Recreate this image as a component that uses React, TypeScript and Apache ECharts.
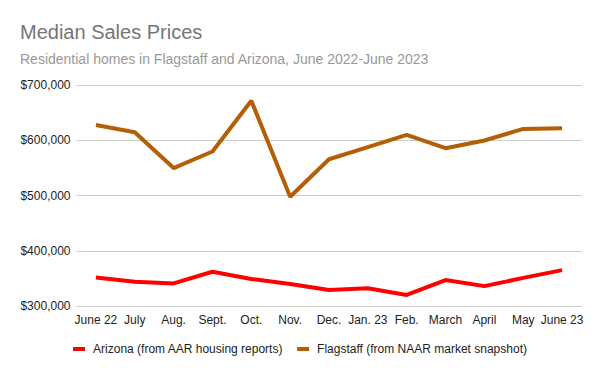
import React, { useEffect, useRef } from "react";
import * as echarts from "echarts";

const months = ["June 22", "July", "Aug.", "Sept.", "Oct.", "Nov.", "Dec.", "Jan. 23", "Feb.", "March", "April", "May", "June 23"];
const arizona = [351500, 344000, 341000, 362000, 349000, 340000, 329000, 332000, 320000, 347000, 336000, 351000, 365000];
const flagstaff = [628000, 615000, 550000, 580000, 672000, 498000, 566000, 588000, 610000, 586000, 600000, 621000, 622000];
const yTicks = { min: 300000, max: 700000, interval: 100000 };

const FONT = "Arial, 'Liberation Sans', sans-serif";

export default function App() {
  const ref = useRef<HTMLDivElement>(null);
  useEffect(() => {
    if (!ref.current) return;
    const chart = echarts.init(ref.current, undefined, { renderer: "svg" });
    chart.setOption({
      animation: false,
      backgroundColor: "#ffffff",
      textStyle: { fontFamily: FONT },
      title: {
        text: "Median Sales Prices",
        subtext: "Residential homes in Flagstaff and Arizona, June 2022-June 2023",
        left: 20,
        top: 22,
        padding: 0,
        itemGap: 10,
        textStyle: { fontFamily: FONT, fontSize: 20, fontWeight: "normal", color: "#757575" },
        subtextStyle: { fontFamily: FONT, fontSize: 14, color: "#999999" },
      },
      legend: {
        top: 338,
        left: "center",
        icon: "rect",
        itemWidth: 12,
        itemHeight: 4,
        itemGap: 14,
        textStyle: { fontFamily: FONT, fontSize: 12, color: "#222222", padding: [0, 0, 0, 3] },
        data: ["Arizona (from AAR housing reports)", "Flagstaff (from NAAR market snapshot)"],
      },
      grid: { left: 76.5, right: 18.5, top: 85.3, bottom: 65, containLabel: false },
      xAxis: {
        type: "category",
        data: months,
        boundaryGap: true,
        axisLine: { show: false },
        axisTick: { show: false },
        axisLabel: { interval: 0, margin: 8, fontFamily: FONT, fontSize: 12, color: "#222222" },
      },
      yAxis: {
        type: "value",
        min: yTicks.min,
        max: yTicks.max,
        interval: yTicks.interval,
        axisLine: { show: false },
        axisTick: { show: false },
        splitLine: { lineStyle: { color: "#cccccc", width: 1 } },
        axisLabel: {
          margin: 6,
          fontFamily: FONT,
          fontSize: 12,
          color: "#222222",
          formatter: (v: number) => "$" + v.toLocaleString("en-US"),
        },
      },
      series: [
        {
          name: "Arizona (from AAR housing reports)",
          type: "line",
          data: arizona,
          symbol: "none",
          lineStyle: { width: 4, color: "#ff0000" },
          itemStyle: { color: "#ff0000" },
        },
        {
          name: "Flagstaff (from NAAR market snapshot)",
          type: "line",
          data: flagstaff,
          symbol: "none",
          lineStyle: { width: 4, color: "#b45f06" },
          itemStyle: { color: "#b45f06" },
        },
      ],
    });
    return () => chart.dispose();
  }, []);
  return <div ref={ref} style={{ width: 600, height: 371, margin: -8 }} />;
}
